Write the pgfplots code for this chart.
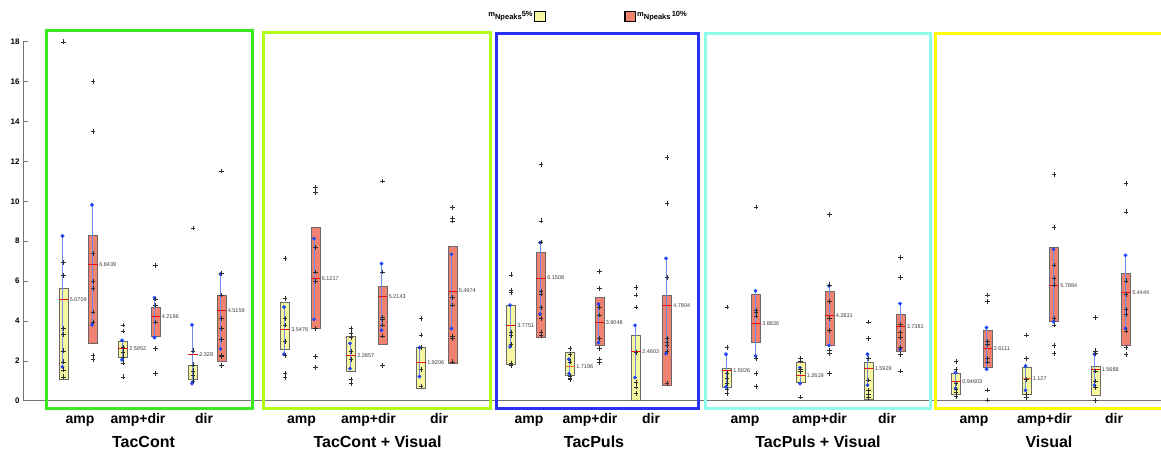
\documentclass[border=0pt]{standalone}
\usepackage{fontspec}
\setmainfont{Liberation Sans}
\usepackage{pgfplots}
\pgfplotsset{compat=1.18}

\definecolor{boxyel}{RGB}{247,247,160}
\definecolor{boxred}{RGB}{242,130,112}
\definecolor{boxedge}{RGB}{105,105,105}
\definecolor{medred}{RGB}{228,20,20}
\definecolor{medorg}{RGB}{240,110,40}
\definecolor{wblue}{RGB}{110,140,235}
\definecolor{dotblue}{RGB}{30,70,250}
\definecolor{ptgray}{RGB}{45,45,45}
\definecolor{axgray}{RGB}{115,115,115}
\definecolor{labgray}{RGB}{60,60,60}
\definecolor{frA}{RGB}{60,232,30}
\definecolor{frB}{RGB}{172,255,20}
\definecolor{frC}{RGB}{40,50,240}
\definecolor{frD}{RGB}{140,255,235}
\definecolor{frE}{RGB}{255,255,0}

\pgfplotsset{
  boxY/.style={fill=boxyel, draw=boxedge, line width=0.7pt},
  boxR/.style={fill=boxred, draw=boxedge, line width=0.7pt},
  wsk/.style={draw=wblue, line width=0.6pt, mark=*, mark size=1.6pt,
              mark options={fill=dotblue, draw=dotblue}},
  med/.style={line width=1pt},
  pts/.style={only marks, mark=+, mark size=2.4pt,
              mark options={draw=ptgray, line width=0.5pt}},
}
\tikzset{
  vlab/.style={anchor=west, xshift=1pt, inner sep=0.5pt,
               font=\fontsize{5.5}{6}\selectfont, text=labgray},
  clab/.style={anchor=base, inner sep=0pt, font=\bfseries\fontsize{14}{16}\selectfont},
  glab/.style={anchor=base, inner sep=0pt, font=\bfseries\fontsize{16}{18}\selectfont},
}

% box between x-edges #1,#2 and y-values #3,#4, style #5
\newcommand\bx[5]{\addplot[#5] coordinates {(#1,#3) (#2,#3) (#2,#4) (#1,#4)} --cycle;}
% blue whisker segment at x=#1 from #2 to #3
\newcommand\wk[3]{\addplot[wsk] coordinates {(#1,#2) (#1,#3)};}
% central line across the box and its value label
\newcommand\md[4][medred]{\addplot[med, draw=#1] coordinates {(#2,#4) (#3,#4)};
  \node[vlab] at (axis cs:#3,#4) {#4};}

\begin{document}
\begin{tikzpicture}
\begin{axis}[
  x=1pt, y=19.94pt,
  xmin=23, xmax=1161, ymin=0, ymax=18,
  axis x line*=bottom, axis y line*=left,
  axis line style={draw=axgray, line width=0.8pt},
  xtick=\empty,
  ytick={0,2,...,18},
  tick align=inside, major tick length=5pt,
  tick style={draw=axgray, line width=0.6pt},
  yticklabel style={font=\bfseries\fontsize{8}{9}\selectfont},
  /pgf/number format/assume math mode=true,
  clip=false,
]
\coordinate (bbsw) at (axis cs:0,-2.472);
\coordinate (bbne) at (axis cs:1161,20.096);

% ---------------- TacCont ----------------
\bx{58.9}{68.1}{1.07}{5.64}{boxY}
\wk{62.5}{1.70}{8.26}
\md{58.9}{68.1}{5.0709}
\addplot[pts] coordinates {(63.5,18.0) (63.5,6.94) (63.5,6.27) (63.5,3.62) (63.5,3.33) (63.5,2.50) (63.5,1.95) (63.5,1.55) (63.5,1.20)};

\bx{88.4}{97.6}{2.87}{8.27}{boxR}
\wk{92}{3.80}{9.82}
\md{88.4}{97.6}{6.8439}
\addplot[pts] coordinates {(93,16.0) (93,13.5) (93,7.38) (93,5.97) (93,5.62) (93,4.45) (93,3.95) (93,2.28) (93,2.08)};

\bx{118.4}{127.6}{2.20}{3.00}{boxY}
\wk{122}{2.05}{3.03}
\md{118.4}{127.6}{2.5952}
\addplot[pts] coordinates {(123,3.80) (123,3.50) (123,2.66) (123,2.42) (123,2.20) (123,1.90) (123,1.20)};

\bx{150.9}{160.1}{3.22}{4.68}{boxR}
\wk{154.5}{3.17}{5.17}
\md{150.9}{160.1}{4.2196}
\addplot[pts] coordinates {(155.5,6.80) (155.5,5.10) (155.5,4.80) (155.5,3.95) (155.5,2.62) (155.5,1.37)};

\bx{188.4}{197.6}{1.08}{1.75}{boxY}
\wk{192}{0.86}{3.80}
\md{188.4}{197.6}{2.328}
\addplot[pts] coordinates {(193,8.66) (193,2.50) (193,1.80) (193,1.50) (193,1.28) (193,1.00)};

\bx{216.9}{226.1}{1.97}{5.26}{boxR}
\wk{220.5}{2.60}{6.35}
\md{216.9}{226.1}{4.5159}
\addplot[pts] coordinates {(221.5,11.52) (221.5,6.40) (221.5,5.30) (221.5,4.13) (221.5,3.62) (221.5,3.08) (221.5,2.28) (221.5,2.21) (221.5,1.78)};

% ---------------- TacCont + Visual ----------------
\bx{280.4}{289.6}{2.60}{4.95}{boxY}
\wk{284}{2.33}{4.70}
\md{280.4}{289.6}{3.5476}
\addplot[pts] coordinates {(285,7.13) (285,5.12) (285,4.12) (285,3.80) (285,2.96) (285,2.28) (285,1.36) (285,1.16)};

\bx{310.9}{320.1}{3.62}{8.68}{boxR}
\wk{314}{4.08}{8.13}
\md{310.9}{320.1}{6.1217}
\addplot[pts] coordinates {(315.5,10.70) (315.5,10.45) (315.5,7.68) (315.5,6.46) (315.5,5.97) (315.5,3.62) (315.5,2.21) (315.5,1.66)};

\bx{346.4}{355.6}{1.46}{3.22}{boxY}
\wk{350}{1.61}{2.88}
\md{346.4}{355.6}{2.2857}
\addplot[pts] coordinates {(351,3.63) (351,3.38) (351,3.17) (351,2.46) (351,2.08) (351,1.08) (351,0.86)};

\bx{377.9}{387.1}{2.83}{5.72}{boxR}
\wk{381.5}{3.53}{6.88}
\md{377.9}{387.1}{5.2143}
\addplot[pts] coordinates {(382.5,11.02) (382.5,6.46) (382.5,4.20) (382.5,4.08) (382.5,3.80) (382.5,3.25) (382.5,1.78)};

\bx{416.4}{425.6}{0.62}{2.70}{boxY}
\wk{419.5}{1.21}{2.66}
\md{416.4}{425.6}{1.9206}
\addplot[pts] coordinates {(421,4.12) (421,3.30) (421,2.66) (421,1.58) (421,0.74)};

\bx{447.9}{457.1}{1.88}{7.76}{boxR}
\wk{451.5}{3.62}{7.34}
\md{447.9}{457.1}{5.4974}
\addplot[pts] coordinates {(452.5,9.68) (452.5,9.15) (452.5,9.02) (452.5,5.17) (452.5,4.80) (452.5,3.25) (452.5,3.12) (452.5,1.95)};

% ---------------- TacPuls ----------------
\bx{506.4}{515.6}{1.83}{4.79}{boxY}
\wk{510}{2.70}{4.79}
\md{506.4}{515.6}{3.7751}
\addplot[pts] coordinates {(511,6.31) (511,5.55) (511,5.42) (511,3.45) (511,3.28) (511,2.83) (511,1.86) (511,1.76)};

\bx{536.4}{545.6}{3.17}{7.46}{boxR}
\wk{540}{4.34}{7.93}
\md{536.4}{545.6}{6.1508}
\addplot[pts] coordinates {(541,11.86) (541,9.02) (541,7.96) (541,5.48) (541,5.36) (541,4.67) (541,4.13) (541,3.42) (541,3.28)};

\bx{565.4}{574.6}{1.28}{2.41}{boxY}
\wk{569}{1.36}{2.08}
\md[medorg]{565.4}{574.6}{1.7196}
\addplot[pts] coordinates {(570,2.63) (570,2.33) (570,1.95) (570,1.24) (570,1.14) (570,1.08)};

\bx{594.9}{604.1}{2.78}{5.17}{boxR}
\wk{598.5}{2.91}{4.84}
\md{594.9}{604.1}{3.9048}
\addplot[pts] coordinates {(599.5,6.47) (599.5,5.64) (599.5,4.67) (599.5,4.30) (599.5,3.12) (599.5,2.61) (599.5,2.08) (599.5,1.91)};

\bx{631.4}{640.6}{0.02}{3.28}{boxY}
\wk{635}{1.16}{3.78}
\md{631.4}{640.6}{2.4603}
\addplot[pts] coordinates {(636,5.67) (636,5.30) (636,4.70) (636,2.41) (636,0.91) (636,0.69) (636,0.37)};

\bx{662.4}{671.6}{0.78}{5.29}{boxR}
\wk{666}{2.36}{7.14}
\md{662.4}{671.6}{4.7804}
\addplot[pts] coordinates {(667,12.19) (667,9.88) (667,6.17) (667,3.12) (667,2.95) (667,2.78) (667,2.46) (667,0.88)};

% ---------------- TacPuls + Visual ----------------
\bx{722.4}{731.6}{0.66}{1.61}{boxY}
\wk{726}{0.69}{2.33}
\md{722.4}{731.6}{1.5026}
\addplot[pts] coordinates {(727,4.70) (727,2.66) (727,1.36) (727,1.11) (727,0.88) (727,0.57) (727,0.37)};

\bx{751.4}{760.6}{2.95}{5.34}{boxR}
\wk{755.5}{2.25}{5.51}
\md{751.4}{760.6}{3.8836}
\addplot[pts] coordinates {(756,9.72) (756,4.55) (756,4.42) (756,4.25) (756,2.11) (756,1.38) (756,0.71)};

\bx{795.9}{805.1}{0.94}{1.91}{boxY}
\wk{800}{0.86}{1.66}
\md{795.9}{805.1}{1.2619}
\addplot[pts] coordinates {(800.5,2.13) (800.5,2.00) (800.5,1.58) (800.5,1.46) (800.5,0.19)};

\bx{824.9}{834.1}{2.78}{5.46}{boxR}
\wk{829}{2.78}{5.76}
\md{824.9}{834.1}{4.2831}
\addplot[pts] coordinates {(829.5,9.35) (829.5,5.81) (829.5,4.97) (829.5,4.13) (829.5,3.53) (829.5,2.53) (829.5,2.36) (829.5,1.38)};

\bx{863.9}{873.1}{0.07}{1.91}{boxY}
\wk{867.5}{0.78}{2.33}
\md{863.9}{873.1}{1.5929}
\addplot[pts] coordinates {(868.5,3.95) (868.5,3.13) (868.5,2.11) (868.5,1.04) (868.5,0.54) (868.5,0.32) (868.5,0.16)};

\bx{895.9}{905.1}{2.46}{4.34}{boxR}
\wk{900}{2.58}{4.87}
\md{895.9}{905.1}{3.7381}
\addplot[pts] coordinates {(900.5,7.18) (900.5,6.17) (900.5,3.83) (900.5,3.42) (900.5,3.17) (900.5,2.66) (900.5,2.33) (900.5,1.49)};

% ---------------- Visual ----------------
\bx{951.4}{960.6}{0.32}{1.36}{boxY}
\wk{955.5}{0.61}{1.41}
\md{951.4}{960.6}{0.94603}
\addplot[pts] coordinates {(956,1.96) (956,1.58) (956,0.86) (956,0.57) (956,0.41) (956,0.21)};

\bx{982.9}{992.1}{1.66}{3.55}{boxR}
\wk{986.5}{1.58}{3.67}
\md{982.9}{992.1}{2.6111}
\addplot[pts] coordinates {(987.5,5.30) (987.5,4.97) (987.5,2.96) (987.5,2.83) (987.5,2.11) (987.5,1.95) (987.5,0.54) (987.5,0.04)};

\bx{1021.9}{1031.1}{0.32}{1.66}{boxY}
\wk{1025.5}{0.52}{1.74}
\md[medorg]{1021.9}{1031.1}{1.127}
\addplot[pts] coordinates {(1026.5,3.30) (1026.5,2.11) (1026.5,1.08) (1026.5,0.32) (1026.5,0.16)};

\bx{1049.4}{1058.6}{4.00}{7.68}{boxR}
\wk{1053.5}{3.97}{7.59}
\md{1049.4}{1058.6}{5.7884}
\addplot[pts] coordinates {(1054,11.35) (1054,8.68) (1054,6.81) (1054,6.14) (1054,5.81) (1054,4.13) (1054,3.80) (1054,2.78) (1054,2.38)};

\bx{1090.9}{1100.1}{0.27}{1.71}{boxY}
\wk{1094.5}{0.78}{2.33}
\md{1090.9}{1100.1}{1.5688}
\addplot[pts] coordinates {(1095.5,4.17) (1095.5,2.50) (1095.5,2.38) (1095.5,1.49) (1095.5,0.99) (1095.5,0.66) (1095.5,0.00)};

\bx{1121.4}{1130.6}{2.78}{6.37}{boxR}
\wk{1125.5}{3.63}{7.29}
\md{1121.4}{1130.6}{5.4444}
\addplot[pts] coordinates {(1126,10.89) (1126,9.47) (1126,6.01) (1126,5.34) (1126,4.59) (1126,4.34) (1126,3.50) (1126,2.66) (1126,2.33)};

% ---------------- group frames ----------------
\draw[frA, line width=3pt] (axis cs:46.7,-0.38) rectangle (axis cs:252.3,18.56);
\draw[frB, line width=3pt] (axis cs:263.3,-0.37) rectangle (axis cs:490,18.48);
\draw[frC, line width=3pt] (axis cs:496,-0.37) rectangle (axis cs:698.3,18.43);
\draw[frD, line width=3pt] (axis cs:705,-0.37) rectangle (axis cs:930,18.43);
\draw[frE, line width=3pt] (axis cs:1161,18.43) -- (axis cs:935,18.43) -- (axis cs:935,-0.37) -- (axis cs:1161,-0.37);

% ---------------- condition and group labels ----------------
\node[clab] at (axis cs:80,-1.133) {amp};
\node[clab] at (axis cs:138,-1.133) {amp+dir};
\node[clab] at (axis cs:204,-1.133) {dir};
\node[clab] at (axis cs:301.5,-1.133) {amp};
\node[clab] at (axis cs:368.5,-1.133) {amp+dir};
\node[clab] at (axis cs:439,-1.133) {dir};
\node[clab] at (axis cs:529,-1.133) {amp};
\node[clab] at (axis cs:590,-1.133) {amp+dir};
\node[clab] at (axis cs:651,-1.133) {dir};
\node[clab] at (axis cs:745,-1.133) {amp};
\node[clab] at (axis cs:819.5,-1.133) {amp+dir};
\node[clab] at (axis cs:887,-1.133) {dir};
\node[clab] at (axis cs:974,-1.133) {amp};
\node[clab] at (axis cs:1044.5,-1.133) {amp+dir};
\node[clab] at (axis cs:1114,-1.133) {dir};

\node[glab] at (axis cs:143.5,-2.337) {TacCont};
\node[glab] at (axis cs:377.5,-2.337) {TacCont + Visual};
\node[glab] at (axis cs:594,-2.337) {TacPuls};
\node[glab] at (axis cs:818,-2.337) {TacPuls + Visual};
\node[glab] at (axis cs:1049,-2.337) {Visual};

% ---------------- legend ----------------
\draw[fill=boxyel, draw=black, line width=1.1pt] (axis cs:534.3,19.01) rectangle (axis cs:545.7,19.54);
\draw[fill=boxred, draw=black, line width=1.1pt] (axis cs:625,19.01) rectangle (axis cs:635.7,19.54);
\node[anchor=base east, inner sep=0pt, font=\bfseries\fontsize{7.5}{8}\selectfont]
  at (axis cs:532.8,19.26) {m\raisebox{-2.5pt}{Npeaks}5\%};
\node[anchor=base west, inner sep=0pt, font=\bfseries\fontsize{7.5}{8}\selectfont]
  at (axis cs:637,19.26) {m\raisebox{-2.5pt}{Npeaks}\,10\%};
\end{axis}
\pgfresetboundingbox
\path[use as bounding box] (bbsw) rectangle (bbne);
\end{tikzpicture}
\end{document}
